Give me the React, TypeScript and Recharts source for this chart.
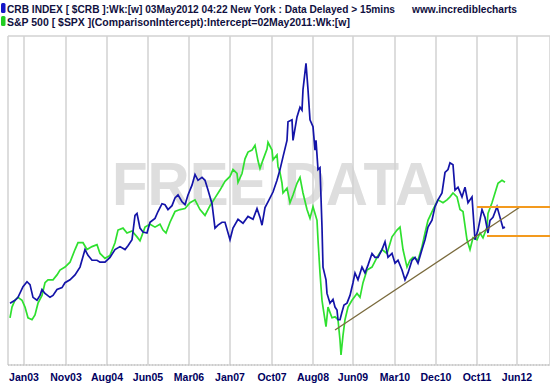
import { LineChart, Line, XAxis, YAxis, CartesianGrid, ReferenceLine } from "recharts"

// x = weeks since the first bar (Oct 2002), y = index points
const tickWeeks = [14, 56, 97, 138, 179, 220, 262, 303, 343, 385, 426, 467, 507]
const tickLabels = ["Jan03", "Nov03", "Aug04", "Jun05", "Mar06", "Jan07", "Oct07", "Aug08", "Jun09", "Mar10", "Dec10", "Oct11", "Jun12"]
const gridValues = [180, 200, 220, 240, 260, 280, 300, 320, 340, 360, 380, 400, 420, 440, 460, 480, 500]

// CRB index (blue)
const crbWeeks = [
  0, 5, 8, 13, 17, 20, 23, 27, 30, 32, 35, 40, 43, 47, 52, 55, 60, 65, 70, 75,
  78, 82, 87, 90, 95, 100, 105, 110, 115, 118, 122, 125, 127, 130, 133, 137, 140, 145, 148, 152,
  155, 158, 162, 165, 168, 172, 175, 178, 182, 185, 188, 192, 195, 198, 202, 205, 208, 212, 215, 220,
  223, 228, 233, 238, 243, 247, 250, 252, 255, 258, 263, 267, 270, 273, 277, 278, 282, 283, 287, 290,
  292, 293, 296, 298, 300, 303, 305, 306, 308, 310, 312, 313, 316, 317, 320, 323, 325, 327, 328, 330,
  332, 334, 337, 340, 343, 345, 348, 352, 355, 358, 362, 365, 368, 372, 375, 378, 382, 385, 388, 392,
  395, 398, 402, 405, 408, 412, 415, 418, 422, 425, 428, 432, 435, 438, 440, 443, 445, 448, 452, 455,
  458, 462, 465, 468, 472, 475, 478, 480, 483, 487, 490, 493, 495,
]
const crbValues = [
  226, 229, 232, 243, 248, 245, 232, 229, 234, 240, 236, 232, 234, 240, 242, 247, 250, 255, 263, 281,
  275, 270, 270, 268, 268, 273, 281, 284, 281, 285, 291, 316, 318, 303, 299, 298, 309, 313, 320, 328,
  327, 322, 326, 334, 337, 330, 327, 337, 347, 358, 352, 355, 352, 342, 328, 303, 306, 309, 309, 291,
  303, 312, 308, 315, 312, 323, 314, 306, 324, 330, 340, 352, 363, 376, 393, 412, 414, 393, 417, 427,
  424, 445, 472, 445, 414, 407, 383, 393, 363, 365, 304, 263, 250, 236, 226, 230, 222, 219, 209, 209,
  217, 224, 226, 234, 247, 257, 250, 263, 257, 265, 277, 273, 273, 281, 289, 273, 277, 267, 270, 260,
  250, 257, 270, 273, 267, 281, 291, 304, 311, 325, 332, 339, 360, 363, 370, 368, 342, 345, 335, 345,
  329, 335, 291, 301, 322, 314, 298, 311, 314, 325, 314, 303, 304,
]

// S&P 500, comparison intercept (green)
const spxWeeks = [
  0, 2, 5, 8, 12, 15, 18, 22, 25, 28, 32, 35, 38, 43, 47, 50, 55, 60, 65, 68,
  73, 77, 82, 87, 90, 95, 100, 105, 108, 113, 117, 122, 127, 130, 135, 140, 145, 150, 153, 156,
  160, 165, 170, 175, 180, 185, 190, 195, 200, 205, 210, 215, 220, 223, 227, 228, 232, 235, 238, 242,
  245, 248, 250, 253, 257, 258, 262, 263, 267, 268, 270, 272, 273, 277, 280, 283, 287, 290, 293, 297,
  300, 303, 307, 308, 310, 312, 313, 316, 318, 322, 325, 328, 330, 331, 333, 335, 338, 342, 347, 350,
  353, 357, 362, 367, 372, 377, 382, 387, 390, 393, 397, 400, 403, 408, 412, 415, 418, 423, 428, 433,
  437, 440, 443, 447, 450, 453, 457, 460, 463, 467, 470, 473, 477, 478, 482, 485, 488, 492, 495,
]
const spxValues = [
  211, 222, 229, 232, 229, 222, 211, 209, 214, 226, 234, 247, 250, 250, 255, 260, 263, 268, 281, 288,
  288, 281, 284, 286, 277, 272, 275, 288, 301, 303, 298, 300, 294, 290, 304, 307, 304, 307, 301, 298,
  309, 320, 322, 323, 329, 332, 322, 316, 326, 334, 342, 351, 356, 363, 359, 350, 359, 374, 381, 383,
  388, 372, 364, 373, 384, 391, 383, 373, 378, 366, 360, 349, 339, 344, 329, 337, 349, 355, 339, 322,
  313, 325, 311, 291, 257, 229, 222, 202, 222, 211, 212, 209, 188, 173, 193, 209, 222, 229, 236, 232,
  247, 260, 263, 273, 281, 277, 294, 301, 304, 281, 263, 270, 273, 270, 284, 298, 311, 322, 332, 329,
  332, 335, 339, 335, 322, 320, 291, 281, 293, 291, 298, 293, 304, 318, 329, 339, 349, 352, 350,
]

const crbData = crbWeeks.map((w, i) => ({ w, v: crbValues[i] }))
const spxData = spxWeeks.map((w, i) => ({ w, v: spxValues[i] }))

const xMin = -2
const xMax = 540
const yMin = 162.6
const yMax = 500

const trendStart = { x: 325, y: 198.5 }
const trendEnd = { x: 510, y: 324.6 }
const upperBand = 324.6
const lowerBand = 294.9

const font = "'Liberation Sans', Arial, sans-serif"

const DateTick = (props: any) => {
  const { x, y, payload, index } = props
  return (
    <text x={x} y={y + 8} textAnchor="middle" fontFamily={font} fontWeight={700} fontSize={10.5} fill="#000060">
      {tickLabels[index] ?? payload.value}
    </text>
  )
}

const App = () => {
  return (
    <div style={{ position: "absolute", left: 0, top: 0, width: 550, height: 388, background: "#fff", overflow: "hidden" }}>
      <svg width={550} height={388} style={{ position: "absolute", left: 0, top: 0 }}>
        <text x={112} y={205} fontFamily={font} fontWeight={700} fontSize={62} fill="#dedede"
          textLength={325} lengthAdjust="spacingAndGlyphs">FREE DATA</text>
      </svg>

      <div style={{ position: "absolute", left: 0, top: 0 }}>
        <LineChart width={550} height={388} margin={{ top: 36, right: 0, bottom: 0, left: 8 }}>
          <CartesianGrid stroke="#d2d2d2" strokeWidth={1.5} />
          <XAxis
            type="number"
            dataKey="w"
            domain={[xMin, xMax]}
            ticks={tickWeeks}
            interval={0}
            height={23}
            tickLine={false}
            axisLine={{ stroke: "#bbbbbb", strokeDasharray: "1 2" }}
            tick={<DateTick />}
            allowDataOverflow
          />
          <YAxis
            type="number"
            domain={[yMin, yMax]}
            ticks={gridValues}
            interval={0}
            width={0}
            tick={false}
            tickLine={false}
            axisLine={false}
            allowDataOverflow
          />
          <Line data={spxData} dataKey="v" type="linear" stroke="#2fe02f" strokeWidth={1.7} dot={false} isAnimationActive={false} />
          <Line data={crbData} dataKey="v" type="linear" stroke="#1414a8" strokeWidth={1.7} dot={false} isAnimationActive={false} />
          <ReferenceLine segment={[trendStart, trendEnd]} stroke="#7a6a3c" strokeWidth={1.3} ifOverflow="visible" />
          <ReferenceLine segment={[{ x: 467, y: upperBand }, { x: xMax, y: upperBand }]} stroke="#f39a1e" strokeWidth={2} ifOverflow="visible" />
          <ReferenceLine segment={[{ x: 477, y: lowerBand }, { x: xMax, y: lowerBand }]} stroke="#f39a1e" strokeWidth={2} ifOverflow="visible" />
        </LineChart>
      </div>

      <svg width={550} height={34} style={{ position: "absolute", left: 0, top: 0 }}>
        <rect x={1} y={3} width={4.5} height={10} rx={1.5} fill="#1414c8" />
        <text x={7} y={12.5} fontFamily={font} fontWeight={700} fontSize={10} fill="#101040"
          textLength={388} lengthAdjust="spacingAndGlyphs">
          CRB INDEX [ $CRB ]:Wk:[w]  03May2012 04:22 New York : Data Delayed &gt; 15mins
        </text>
        <text x={412} y={12.5} fontFamily={font} fontWeight={700} fontSize={10} fill="#101040"
          textLength={105} lengthAdjust="spacingAndGlyphs">www.incrediblecharts</text>
        <rect x={1} y={16} width={4.5} height={10} rx={1.5} fill="#22cc22" />
        <text x={7} y={25.5} fontFamily={font} fontWeight={700} fontSize={10} fill="#101040"
          textLength={343} lengthAdjust="spacingAndGlyphs">
          S&amp;P 500 [ $SPX ](ComparisonIntercept):Intercept=02May2011:Wk:[w]
        </text>
      </svg>
    </div>
  )
}

export default App
